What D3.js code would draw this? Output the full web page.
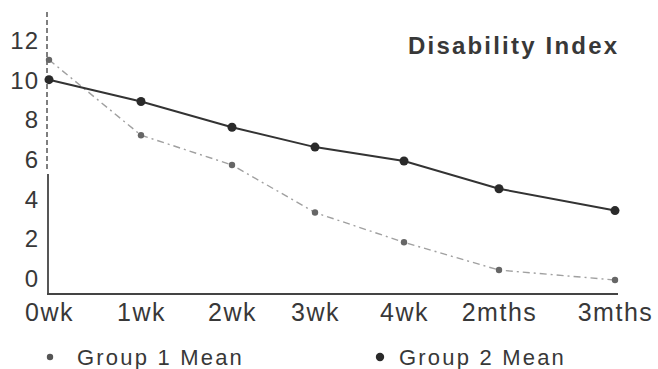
<!DOCTYPE html>
<html><head><meta charset="utf-8">
<script src="https://cdn.jsdelivr.net/npm/d3@7"></script>
<style>
html,body{margin:0;padding:0;background:#fff;}
svg{display:block;font-family:"Liberation Sans",Arial,Helvetica,sans-serif;}
</style></head>
<body>
<svg id="chart" width="658" height="369"></svg>
<script>
// ---- data ----
const categories = ["0wk","1wk","2wk","3wk","4wk","2mths","3mths"];
const group1 = [11.0, 7.2, 5.7, 3.3, 1.8, 0.4, -0.1];
const group2 = [10.0, 8.9, 7.6, 6.6, 5.9, 4.5, 3.4];
const yTicks = [0, 2, 4, 6, 8, 10, 12];
const seriesNames = ["Group 1 Mean", "Group 2 Mean"];
const title = "Disability Index";

// ---- layout ----
const W = 658, H = 369;
const xStops = [49, 141, 232, 315, 404, 499, 615];
const axisX = 47, baseY = 294;
const svg = d3.select("#chart");

const x = d3.scaleOrdinal().domain(categories).range(xStops);
const y = d3.scaleLinear().domain([0, 12]).range([278, 40]);

const ink = "#383838";

// y axis labels
const yAx = svg.append("g").attr("transform", `translate(${axisX - 8},0)`)
  .call(d3.axisLeft(y).tickValues(yTicks).tickSize(0).tickPadding(0));
yAx.select(".domain").remove();
yAx.selectAll("text").attr("fill", ink).style("font-size", "24px")
  .attr("dy", "0.36em").style("letter-spacing", "1px");

// y axis line: dashed upper part, solid lower
svg.append("line").attr("x1", axisX).attr("x2", axisX).attr("y1", 12).attr("y2", 170)
  .attr("stroke", "#555").attr("stroke-width", 1.5).attr("stroke-dasharray", "5,3");
svg.append("line").attr("x1", axisX + 1).attr("x2", axisX + 1).attr("y1", 174).attr("y2", baseY)
  .attr("stroke", "#444").attr("stroke-width", 1.8);

// x axis
const xAx = svg.append("g").attr("transform", `translate(0,${baseY})`)
  .call(d3.axisBottom(x).tickSize(0).tickPadding(10));
xAx.select(".domain").remove();
svg.append("line").attr("x1", axisX).attr("x2", 618).attr("y1", baseY).attr("y2", baseY)
  .attr("stroke", "#444").attr("stroke-width", 2);
xAx.selectAll("text").attr("fill", ink).style("font-size", "25px")
  .attr("dy", "0.68em").style("letter-spacing", "1.5px");

// lines
const line = d3.line().x((d, i) => x(categories[i])).y(d => y(d));
svg.append("path").datum(group1).attr("d", line).attr("fill", "none")
  .attr("stroke", "#a0a0a0").attr("stroke-width", 1.4).attr("stroke-dasharray", "7,4,2,4");
svg.append("path").datum(group2).attr("d", line).attr("fill", "none")
  .attr("stroke", "#333").attr("stroke-width", 2);

svg.append("g").selectAll("circle").data(group1).join("circle")
  .attr("cx", (d, i) => x(categories[i])).attr("cy", d => y(d)).attr("r", 3.2).attr("fill", "#666");
svg.append("g").selectAll("circle").data(group2).join("circle")
  .attr("cx", (d, i) => x(categories[i])).attr("cy", d => y(d)).attr("r", 4.5).attr("fill", "#2a2a2a");

// title
svg.append("text").attr("x", 408).attr("y", 54).text(title)
  .attr("fill", ink).style("font-size", "24px").style("font-weight", "bold").style("letter-spacing", "2.2px");

// legend
const leg = svg.append("g");
const legX = [50, 380], legR = [3.2, 4.2], legC = ["#555", "#2a2a2a"];
seriesNames.forEach((n, i) => {
  leg.append("circle").attr("cx", legX[i]).attr("cy", 357).attr("r", legR[i]).attr("fill", legC[i]);
  leg.append("text").attr("x", legX[i] + (i === 0 ? 27 : 19)).attr("y", 357).attr("dy", "0.36em")
    .text(n).attr("fill", ink).style("font-size", "22px").style("letter-spacing", "2.2px");
});
</script>
</body></html>
